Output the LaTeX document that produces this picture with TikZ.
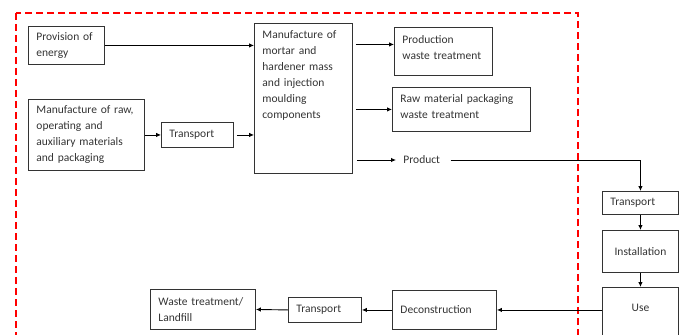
\documentclass[tikz,border=0pt]{standalone}
\usepackage{fontspec}
\setmainfont{Carlito}
\usetikzlibrary{arrows.meta,positioning}

\begin{document}
\begin{tikzpicture} [ % 先定义样式
            x=1pt, y=-1pt, line width=0.9pt, >={Latex[length=5pt,width=4.5pt]},
            font=\fontsize{11.5}{16}\selectfont,
            rec/.style = {rectangle, draw=black!80, anchor=north west, align=left, inner xsep=8pt, inner ysep=4pt, text=black!80},
            rec2/.style = {rec, align=center},
            txt/.style = {anchor=west, inner xsep=7pt, inner ysep=2pt, text=black!80},
            frame/.style = {draw=red, line width=1.6pt, dash pattern=on 7pt off 4pt}
        ]

        \path [use as bounding box, clip] (0,0) rectangle (684,334);

        % 系统边界
        \draw [frame] (16,13) rectangle (578,350);

        % 左边方框
        \node [rec, minimum width=76pt, minimum height=38pt, text width=60pt] (energy) at (28,26) {Provision of\\energy};
        \node [rec, minimum width=116pt, minimum height=71pt, text width=100pt] (raw) at (28,99) {Manufacture of raw,\\operating and\\auxiliary materials\\and packaging};
        \node [rec, minimum width=72pt, minimum height=25pt, text width=56pt] (trans1) at (161,122) {Transport};

        % 中间矩形
        \node [rec, text width=82pt, text height=11pt, text depth=131pt] (mortar) at (254,23) {Manufacture of\\mortar and\\hardener mass\\and injection\\moulding\\components};

        % 右边输出
        \node [rec, text width=82pt, text height=12pt, text depth=28pt] (prodwaste) at (394,27) {Production\\waste treatment};
        \node [rec, text width=122pt, text height=11pt, text depth=25pt] (packwaste) at (392,87) {Raw material packaging\\waste treatment};
        \node [txt] (product) at (396,160) {Product};

        % 使用阶段
        \node [rec, minimum width=76pt, minimum height=23pt, text width=60pt] (trans2) at (602,191) {Transport};
        \node [rec2, minimum width=76pt, minimum height=42pt] (install) at (602,230) {Installation};
        \node [rec2, minimum width=76pt, text height=20pt, text depth=40pt] (use) at (602,287) {Use};

        % 下面一行
        \node [rec, minimum width=104pt, minimum height=39pt, text width=88pt] (decon) at (392,290) {Deconstruction};
        \node [rec, minimum width=73pt, minimum height=25pt, text width=57pt] (trans3) at (288,297) {Transport};
        \node [rec, minimum width=105pt, minimum height=40pt, text width=89pt] (waste) at (150,289) {Waste treatment/\\Landfill};

        % 连线
        \coordinate (pwin) at ([yshift=7pt]prodwaste.west);

        \draw [->] (energy.east) -- (energy.east -| mortar.west);
        \draw [->] (raw.east) -- (trans1.west);
        \draw [->, shorten <=3pt] (trans1.east) -- (trans1.east -| mortar.west);

        \draw [->, shorten <=3pt] (pwin -| mortar.east) -- (pwin);
        \draw [->, shorten <=3pt] (packwaste.west -| mortar.east) -- (packwaste.west);
        \draw [->, shorten <=4pt] (product.west -| mortar.east) -- (product.west);

        \draw [->, shorten <=3pt] (product.east) -| (trans2.north);
        \draw [->] (trans2.south) -- (install.north);
        \draw [->] (install.south) -- (use.north);

        \draw [->] (use.west |- decon.east) -- (decon.east);
        \draw [->] (decon.west) -- (trans3.east);
        \draw [->] (trans3.west) -- (waste.east);

    \end{tikzpicture}
\end{document}
